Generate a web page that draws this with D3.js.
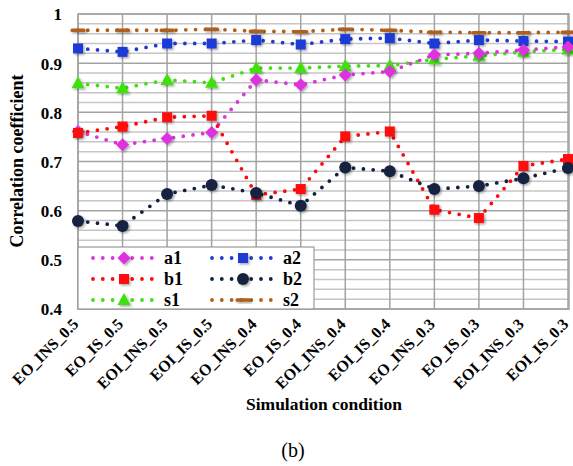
<!DOCTYPE html>
<html>
<head>
<meta charset="utf-8">
<script src="https://cdn.jsdelivr.net/npm/d3@7"></script>
<style>
  html, body { margin: 0; padding: 0; background: #fff; }
  svg { display: block; }
  text { font-family: "Liberation Serif", "Times New Roman", serif; fill: #000; }
</style>
</head>
<body>
<svg id="chart" width="573" height="466"></svg>
<script>
const categories = ["EO_INS_0.5","EO_IS_0.5","EOI_INS_0.5","EOI_IS_0.5","EO_INS_0.4","EO_IS_0.4",
  "EOI_INS_0.4","EOI_IS_0.4","EO_INS_0.3","EO_IS_0.3","EOI_INS_0.3","EOI_IS_0.3"];
const a1 = [0.761, 0.734, 0.747, 0.759, 0.866, 0.856, 0.876, 0.883, 0.917, 0.920, 0.927, 0.933];
const b1 = [0.758, 0.771, 0.790, 0.793, 0.632, 0.644, 0.751, 0.761, 0.602, 0.585, 0.691, 0.705];
const s1 = [0.859, 0.849, 0.866, 0.860, 0.890, 0.890, 0.894, 0.895, 0.908, 0.915, 0.923, 0.928];
const a2 = [0.930, 0.923, 0.940, 0.940, 0.947, 0.938, 0.949, 0.951, 0.940, 0.947, 0.945, 0.944];
const b2 = [0.579, 0.569, 0.634, 0.652, 0.636, 0.610, 0.688, 0.680, 0.644, 0.650, 0.666, 0.687];
const s2 = [0.967, 0.967, 0.967, 0.969, 0.965, 0.964, 0.969, 0.967, 0.963, 0.962, 0.962, 0.963];
const yTicks = [0.4, 0.5, 0.6, 0.7, 0.8, 0.9, 1];
const seriesNames = ["a1","b1","s1","a2","b2","s2"];
const seriesColors = ["#dd33dd","#ff0a0a","#3fe010","#1f3ad6","#13223f","#b0601a"];
const seriesShapes = ["diamond","square","triangle","square","circle","dash"];

const series = [a1, b1, s1, a2, b2, s2].map((v, i) => ({
  name: seriesNames[i], values: v, color: seriesColors[i], shape: seriesShapes[i]
}));

const svg = d3.select("#chart");
const L = 78, R = 569, T = 14, B = 309;
const x = d3.scalePoint().domain(categories).range([L, 568]).padding(0);
const y = d3.scaleLinear().domain([0.4, 1]).range([B, T]);

const defs = svg.append("defs");
const f = defs.append("filter").attr("id", "sh").attr("x", "-50%").attr("y", "-50%").attr("width", "200%").attr("height", "200%");
f.append("feDropShadow").attr("dx", 1.5).attr("dy", 1.5).attr("stdDeviation", 1.2)
  .attr("flood-color", "#000").attr("flood-opacity", 0.35);

// minor grid
const minor = d3.range(0.42, 1.0, 0.02).filter(v => Math.abs(v * 10 - Math.round(v * 10)) > 1e-6);
svg.append("g").selectAll("line").data(minor).join("line")
  .attr("x1", L).attr("x2", R).attr("y1", d => y(d)).attr("y2", d => y(d))
  .attr("stroke", "#c6c6c6").attr("stroke-width", 1.5);
// major grid
svg.append("g").selectAll("line").data(yTicks).join("line")
  .attr("x1", L).attr("x2", R).attr("y1", d => y(d)).attr("y2", d => y(d))
  .attr("stroke", "#a3a3a3").attr("stroke-width", 1.5);
// vertical grid
svg.append("g").selectAll("line").data(categories).join("line")
  .attr("x1", d => x(d)).attr("x2", d => x(d)).attr("y1", T).attr("y2", B)
  .attr("stroke", "#a3a3a3").attr("stroke-width", 1.5);
svg.append("rect").attr("x", L).attr("y", T).attr("width", R - L).attr("height", B - T)
  .attr("fill", "none").attr("stroke", "#a3a3a3").attr("stroke-width", 1.5);

// y axis labels
const yAxis = d3.axisLeft(y).tickValues(yTicks).tickSize(0).tickPadding(0)
  .tickFormat(d => d === 1 ? "1" : d3.format(".1f")(d));
const gy = svg.append("g").attr("transform", `translate(62,0)`).call(yAxis);
gy.select(".domain").remove();
gy.selectAll("text").attr("font-family", "Liberation Serif").attr("font-size", 17)
  .attr("font-weight", "bold").attr("fill", "#000").attr("dy", "0.35em").attr("x", 0);

// x axis labels
const xAxis = d3.axisBottom(x).tickSize(0).tickPadding(0);
const gx = svg.append("g").attr("transform", `translate(0,${B})`).call(xAxis);
gx.select(".domain").remove();
gx.selectAll("text").attr("font-family", "Liberation Serif").attr("font-size", 16)
  .attr("font-weight", "bold").attr("fill", "#000")
  .attr("text-anchor", "end").attr("dy", 0).attr("y", 0)
  .attr("transform", "translate(1,16) rotate(-45)");

// lines
const line = d3.line().x((d, i) => x(categories[i])).y(d => y(d));
function drawMarker(g, shape, color, cx, cy) {
  if (shape === "square") {
    g.append("rect").attr("x", cx - 5).attr("y", cy - 5).attr("width", 10).attr("height", 10).attr("fill", color);
  } else if (shape === "diamond") {
    g.append("path").attr("d", `M${cx},${cy - 6.5}L${cx + 6.5},${cy}L${cx},${cy + 6.5}L${cx - 6.5},${cy}Z`).attr("fill", color);
  } else if (shape === "triangle") {
    g.append("path").attr("d", `M${cx},${cy - 7}L${cx + 6.5},${cy + 5}L${cx - 6.5},${cy + 5}Z`).attr("fill", color);
  } else if (shape === "circle") {
    g.append("circle").attr("cx", cx).attr("cy", cy).attr("r", 6).attr("fill", color);
  } else if (shape === "dash") {
    g.append("rect").attr("x", cx - 7.5).attr("y", cy - 1.8).attr("width", 15).attr("height", 3.6).attr("rx", 1.5).attr("fill", color);
  }
}
const drawOrder = [5, 3, 2, 0, 1, 4];
drawOrder.forEach(k => {
  const s = series[k];
  svg.append("path").datum(s.values).attr("d", line).attr("fill", "none")
    .attr("stroke", s.color).attr("stroke-width", 3.8).attr("stroke-linecap", "round")
    .attr("stroke-dasharray", "0,9.8");
});
drawOrder.forEach(k => {
  const s = series[k];
  const g = svg.append("g").attr("filter", "url(#sh)");
  s.values.forEach((v, i) => drawMarker(g, s.shape, s.color, x(categories[i]), y(v)));
});

// legend
const lg = svg.append("g");
lg.append("rect").attr("x", 78).attr("y", 247).attr("width", 236).attr("height", 62)
  .attr("fill", "#fff").attr("stroke", "#9a9a9a").attr("stroke-width", 1.2);
const legendCols = [93, 212];
const legendRows = [258, 279, 300];
series.forEach((s, i) => {
  const col = Math.floor(i / 3), row = i % 3;
  const x0 = legendCols[col], yy = legendRows[row];
  lg.append("line").attr("x1", x0).attr("x2", x0 + 60).attr("y1", yy).attr("y2", yy)
    .attr("stroke", s.color).attr("stroke-width", 3.8).attr("stroke-linecap", "round")
    .attr("stroke-dasharray", "0,9.8");
  const mg = lg.append("g").attr("filter", "url(#sh)");
  drawMarker(mg, s.shape, s.color, x0 + 31, yy);
  lg.append("text").attr("x", x0 + 71).attr("y", yy).attr("dy", "0.35em")
    .attr("font-size", 18).attr("font-weight", "bold").text(s.name);
});

// titles
svg.append("text").attr("transform", "translate(23,161) rotate(-90)").attr("text-anchor", "middle")
  .attr("font-size", 18).attr("font-weight", "bold").text("Correlation coefficient");
svg.append("text").attr("x", 324).attr("y", 410).attr("text-anchor", "middle")
  .attr("font-size", 17.5).attr("font-weight", "bold").text("Simulation condition");
svg.append("text").attr("x", 293).attr("y", 457).attr("text-anchor", "middle")
  .attr("font-size", 20).text("(b)");
</script>
</body>
</html>
